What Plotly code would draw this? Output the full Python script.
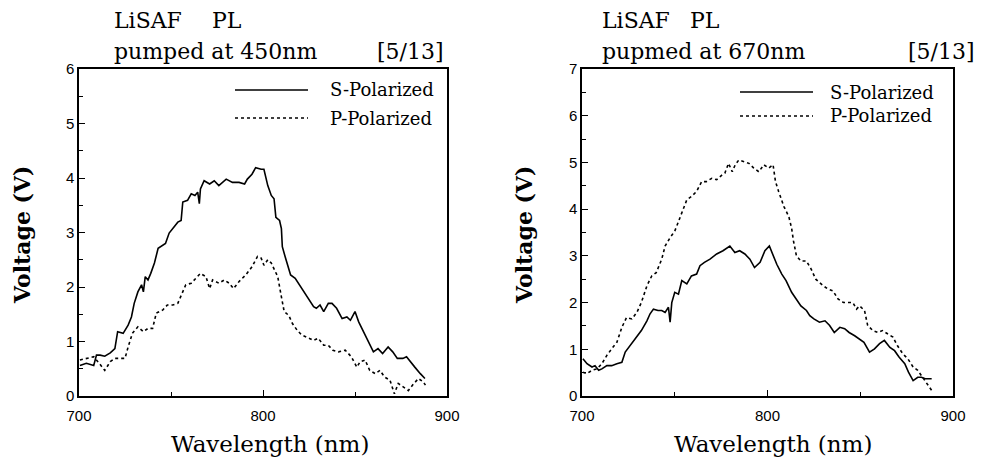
import plotly.graph_objects as go
from plotly.subplots import make_subplots

# ---------------- data ----------------
# Left panel: pumped at 450 nm
left_s_wl = [700.5, 704, 708, 709.5, 711.5, 714, 717, 719.5, 721, 724, 726.7, 728.5, 730, 732, 734, 735, 736,
             737.5, 739, 741, 743, 745.6, 747, 749, 751, 753.7, 755.5, 756.4, 759, 761, 763, 764.5, 765.4, 766,
             768, 771, 773.5, 776, 780, 783.4, 787, 790, 791.5, 794, 796, 799, 800.5, 802.6, 804.5, 806, 807,
             809, 810, 810.5, 812, 815, 817.5, 821, 825, 827.5, 829, 831, 833, 835.5, 837.5, 840, 843, 845.6,
             847.5, 850, 852, 854.6, 857, 860, 862.5, 865, 868, 870.5, 873, 876, 878, 880, 882.5, 885.5, 888]
left_s_v = [0.56, 0.60, 0.56, 0.75, 0.75, 0.73, 0.79, 0.87, 1.18, 1.15, 1.30, 1.45, 1.70, 1.91, 2.04, 1.91, 2.19,
            2.13, 2.25, 2.44, 2.71, 2.77, 2.80, 2.99, 3.07, 3.19, 3.22, 3.56, 3.59, 3.71, 3.68, 3.74, 3.53, 3.80,
            3.95, 3.89, 3.95, 3.86, 3.98, 3.92, 3.92, 3.89, 3.98, 4.07, 4.19, 4.16, 4.16, 3.86, 3.68, 3.62, 3.28,
            3.22, 3.07, 2.74, 2.56, 2.22, 2.16, 1.98, 1.76, 1.64, 1.61, 1.67, 1.55, 1.70, 1.70, 1.61, 1.42, 1.45,
            1.39, 1.55, 1.36, 1.18, 1.02, 0.81, 0.87, 0.78, 0.90, 0.81, 0.69, 0.69, 0.72, 0.63, 0.53, 0.41, 0.32]

left_p_wl = [700.5, 704, 708, 711, 714, 717, 719.5, 722, 725, 726.7, 729, 732, 735, 737.5, 740, 742, 745.6, 748,
             751, 753.7, 756, 758, 761, 763.5, 766, 769, 771, 772.6, 776, 779, 781.6, 784, 787, 790.6, 794, 797,
             799, 800.5, 802.6, 804.5, 806, 808, 810, 811.5, 814, 816, 818.5, 821, 825, 827.5, 830, 833, 835.5,
             838, 841, 844.7, 848, 851, 852.8, 855.5, 858, 861, 863.6, 866, 869, 871.4, 873.5, 876, 879, 882,
             884.5, 887, 888.3]
left_p_v = [0.66, 0.69, 0.72, 0.60, 0.47, 0.63, 0.69, 0.69, 0.69, 0.90, 1.15, 1.27, 1.18, 1.24, 1.24, 1.52, 1.58,
            1.67, 1.67, 1.70, 1.88, 2.04, 2.07, 2.16, 2.25, 2.19, 1.97, 2.13, 2.07, 2.13, 2.07, 1.97, 2.10, 2.22,
            2.37, 2.56, 2.53, 2.40, 2.50, 2.44, 2.34, 2.19, 1.82, 1.55, 1.48, 1.33, 1.21, 1.12, 1.06, 1.02, 1.06,
            0.93, 0.93, 0.84, 0.81, 0.84, 0.72, 0.53, 0.63, 0.66, 0.47, 0.41, 0.47, 0.35, 0.29, 0.04, 0.23, 0.17,
            0.10, 0.23, 0.32, 0.26, 0.20]

# Right panel: pumped at 670 nm
right_s_wl = [700.5, 702.7, 705.4, 707, 709, 710.7, 713.4, 716, 718.8, 721.5, 723.3, 726, 729.6, 732, 735, 736.7,
              738.5, 741, 743, 744.8, 746.6, 747.5, 748.4, 750, 752, 753.8, 756.5, 759, 761.8, 763.6, 766, 769,
              772.6, 776, 779.7, 782.4, 785, 787.8, 790.5, 793, 796, 798.6, 801, 803, 805, 807.7, 810, 813,
              815.6, 818, 821, 822.8, 825, 828, 831, 833.5, 836, 839, 841.6, 844, 847, 849.6, 852, 855, 857.7,
              860.4, 863, 866, 868.5, 871, 874, 876, 878.5, 881, 883, 885, 888.5]
right_s_v = [0.80, 0.69, 0.62, 0.65, 0.55, 0.58, 0.65, 0.65, 0.69, 0.72, 0.94, 1.08, 1.29, 1.40, 1.61, 1.76, 1.86,
             1.83, 1.83, 1.79, 1.90, 1.58, 2.00, 2.22, 2.18, 2.47, 2.40, 2.57, 2.61, 2.79, 2.86, 2.93, 3.04, 3.11,
             3.21, 3.07, 3.11, 3.04, 2.93, 2.75, 2.86, 3.11, 3.21, 3.00, 2.82, 2.61, 2.47, 2.22, 2.08, 1.93, 1.83,
             1.72, 1.65, 1.58, 1.61, 1.51, 1.36, 1.47, 1.44, 1.36, 1.29, 1.22, 1.15, 0.94, 1.01, 1.12, 1.19, 1.04,
             0.97, 0.83, 0.69, 0.51, 0.33, 0.40, 0.40, 0.37, 0.37]

right_p_wl = [700.5, 702.7, 705.4, 708, 710.7, 713.4, 716, 718.8, 721.5, 724, 726.9, 729.6, 732, 735, 737.6, 740,
              743, 744.8, 747.5, 750, 751, 753.8, 756.5, 759, 761.8, 764.5, 767, 770, 772.6, 775.4, 777, 779, 781,
              782.6, 784.5, 787, 790, 792.6, 795.3, 798, 800.7, 803, 804.3, 806, 808.8, 811.5, 813, 814, 815.6,
              818, 821, 823.6, 826, 830, 832.6, 835.3, 838, 841, 843.5, 846, 848, 849.6, 852.3, 854, 856.8, 859.5,
              862, 865, 867.6, 870, 873, 875.6, 878.5, 881, 884, 885.5, 888.5]
right_p_v = [0.51, 0.48, 0.55, 0.58, 0.69, 0.87, 1.01, 1.15, 1.47, 1.68, 1.65, 1.79, 2.00, 2.36, 2.57, 2.64, 2.93,
             3.21, 3.39, 3.53, 3.63, 3.91, 4.20, 4.27, 4.38, 4.59, 4.59, 4.66, 4.63, 4.73, 4.77, 4.98, 4.80, 4.95,
             5.05, 5.02, 4.98, 4.88, 4.80, 4.95, 4.88, 4.95, 4.59, 4.38, 4.06, 3.84, 3.59, 3.32, 3.00, 2.89, 2.89,
             2.71, 2.50, 2.36, 2.29, 2.25, 2.08, 2.00, 2.00, 2.00, 1.86, 1.93, 1.83, 1.51, 1.40, 1.36, 1.40, 1.33,
             1.26, 1.08, 0.90, 0.80, 0.62, 0.55, 0.37, 0.30, 0.12]

x_tickvals = [700, 800, 900]
x_ticktext = ["700", "800", "900"]
left_yticks = [0, 1, 2, 3, 4, 5, 6]
right_yticks = [0, 1, 2, 3, 4, 5, 6, 7]
series_names = ["S-Polarized", "P-Polarized"]

# ---------------- figure ----------------
W, H = 983, 461
fig = make_subplots(rows=1, cols=2)

line_s = dict(color="black", width=1.6)
line_p = dict(color="black", width=1.6, dash="dot")

fig.add_trace(go.Scatter(x=left_s_wl, y=left_s_v, mode="lines", line=line_s, name=series_names[0],
                         showlegend=False), row=1, col=1)
fig.add_trace(go.Scatter(x=left_p_wl, y=left_p_v, mode="lines", line=line_p, name=series_names[1],
                         showlegend=False), row=1, col=1)
fig.add_trace(go.Scatter(x=right_s_wl, y=right_s_v, mode="lines", line=line_s, name=series_names[0],
                         showlegend=False), row=1, col=2)
fig.add_trace(go.Scatter(x=right_p_wl, y=right_p_v, mode="lines", line=line_p, name=series_names[1],
                         showlegend=False), row=1, col=2)

tick_font = dict(family="Liberation Sans", size=15, color="black")
common_axis = dict(showline=True, linecolor="black", linewidth=1.5, mirror=True, showgrid=False,
                   zeroline=False, ticks="inside", ticklen=6, tickwidth=1.2, tickcolor="black",
                   tickfont=tick_font, automargin=False)


def px_x(p):
    return p / W


def px_y(p):
    return 1 - p / H


fig.update_xaxes(range=[700, 900], tickvals=x_tickvals, ticktext=x_ticktext, ticklabelstandoff=5,
                 minor=dict(dtick=50, tick0=700, ticks="inside", ticklen=4, tickcolor="black"),
                 **common_axis)
fig.update_yaxes(dtick=1, minor=dict(dtick=0.5, ticks="inside", ticklen=4, tickcolor="black"),
                 **common_axis)
fig.update_yaxes(range=[0, 6], tickvals=left_yticks, row=1, col=1)
fig.update_yaxes(range=[0, 7], tickvals=right_yticks, row=1, col=2)

fig.update_layout(
    xaxis=dict(domain=[px_x(79), px_x(447)]),
    xaxis2=dict(domain=[px_x(582), px_x(953)]),
    yaxis=dict(domain=[px_y(396), px_y(69)]),
    yaxis2=dict(domain=[px_y(396), px_y(69)]),
)

serif = "DejaVu Serif"
annotations = []


def add_text(text, x, y, size, xanchor="left", bold=False, angle=0):
    annotations.append(dict(
        text=("<b>" + text + "</b>") if bold else text,
        x=px_x(x), y=px_y(y), xref="paper", yref="paper",
        xanchor=xanchor, yanchor="middle", showarrow=False, textangle=angle,
        font=dict(family=serif, size=size, color="black")))


# titles
add_text("LiSAF", 112, 21, 22)
add_text("PL", 210, 21, 22)
add_text("pumped at 450nm", 112, 51, 22)
add_text("[5/13]", 446, 51, 22, xanchor="right")
add_text("LiSAF", 600, 21, 22)
add_text("PL", 688, 21, 22)
add_text("pupmed at 670nm", 600, 51, 22)
add_text("[5/13]", 977, 51, 22, xanchor="right")

# axis titles
add_text("Wavelength (nm)", 270, 444, 23, xanchor="center")
add_text("Wavelength (nm)", 773, 444, 23, xanchor="center")
add_text("Voltage (V)", 22, 235, 22, xanchor="center", bold=True, angle=-90)
add_text("Voltage (V)", 524, 235, 22, xanchor="center", bold=True, angle=-90)

# legends (drawn as key lines + labels)
shapes = []
legend_specs = [
    (235, 308, 328, 90, 118),
    (740, 813, 828, 92, 116),
]
for x0, x1, xt, ys, yp in legend_specs:
    shapes.append(dict(type="line", xref="paper", yref="paper", x0=px_x(x0), x1=px_x(x1),
                       y0=px_y(ys), y1=px_y(ys), line=dict(color="black", width=1.5)))
    shapes.append(dict(type="line", xref="paper", yref="paper", x0=px_x(x0), x1=px_x(x1),
                       y0=px_y(yp), y1=px_y(yp), line=dict(color="black", width=1.5, dash="dot")))
    add_text(series_names[0], xt, ys, 18)
    add_text(series_names[1], xt, yp, 18)

fig.update_layout(
    width=W, height=H,
    margin=dict(l=0, r=0, t=0, b=0, pad=0, autoexpand=False),
    paper_bgcolor="white", plot_bgcolor="white",
    annotations=annotations, shapes=shapes,
    showlegend=False,
)

fig.write_html("out.html", config={"displayModeBar": False},
               post_script="document.body.style.margin='0px';")
